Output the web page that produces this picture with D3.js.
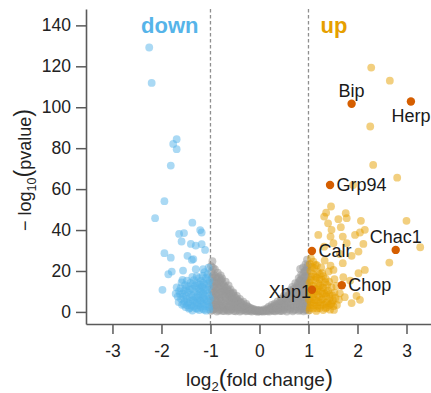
<!DOCTYPE html>
<html>
<head>
<meta charset="utf-8">
<script src="https://cdn.jsdelivr.net/npm/d3@7"></script>
<style>
  html, body { margin: 0; padding: 0; background: #fff; }
  svg { display: block; font-family: "Liberation Sans", Arial, Helvetica, sans-serif; }
</style>
</head>
<body>
<svg id="chart" width="431" height="393"></svg>
<script>
// Axis ticks and fold-change cut-offs
const xTicks = [-3, -2, -1, 0, 1, 2, 3];
const yTicks = [0, 20, 40, 60, 80, 100, 120, 140];
const foldCutoffs = [-1, 1];
const groupNames = ["down", "up"];

// Genes as [log2 fold change, -log10 p-value]
const unchanged = [
  [-0.99,0.4],[-0.98,2.8],[-0.99,5.5],[-0.97,8.2],[-0.98,11.1],[-0.99,13.9],[-0.97,16.7],[-0.98,19.5],[-0.99,22.4],[-0.96,24.8],
  [-0.93,1.3],[-0.94,4.1],[-0.92,6.9],[-0.93,9.6],[-0.94,12.5],[-0.92,15.2],[-0.93,18.1],[-0.91,20.9],
  [-0.87,0.2],[-0.88,2.6],[-0.86,5.3],[-0.87,8.0],[-0.88,10.8],[-0.86,13.4],[-0.87,16.3],[-0.85,19.2],
  [-0.81,1.1],[-0.82,3.9],[-0.80,6.6],[-0.81,9.3],[-0.82,12.2],[-0.80,15.0],[-0.79,17.8],
  [-0.76,0.5],[-0.75,3.0],[-0.77,5.8],[-0.76,8.5],[-0.74,11.3],[-0.75,14.1],[-0.76,16.4],
  [-0.70,1.4],[-0.71,4.2],[-0.69,6.8],[-0.70,9.7],[-0.71,12.4],[-0.69,14.8],
  [-0.64,0.3],[-0.65,2.7],[-0.63,5.4],[-0.64,8.1],[-0.65,10.6],[-0.63,12.9],
  [-0.58,1.2],[-0.59,3.8],[-0.57,6.3],[-0.58,8.9],[-0.59,11.0],
  [-0.52,0.4],[-0.53,2.9],[-0.51,5.5],[-0.52,7.9],[-0.53,9.5],
  [-0.46,1.0],[-0.47,3.4],[-0.45,5.9],[-0.46,7.8],
  [-0.40,0.2],[-0.41,2.5],[-0.39,4.7],[-0.40,6.4],
  [-0.34,1.1],[-0.35,3.2],[-0.33,5.0],
  [-0.28,0.3],[-0.29,2.1],[-0.27,3.9],
  [-0.22,1.0],[-0.23,2.6],
  [-0.16,0.2],[-0.17,1.8],
  [-0.10,0.8],[-0.11,1.4],
  [-0.04,0.1],[-0.05,0.9],
  [0.02,0.5],[0.01,0.8],
  [0.08,0.1],[0.09,1.2],
  [0.14,0.6],[0.15,1.7],
  [0.20,0.2],[0.21,1.5],[0.19,2.6],
  [0.26,0.9],[0.27,2.4],[0.25,3.4],
  [0.32,0.3],[0.33,2.0],[0.31,4.1],
  [0.38,1.1],[0.39,3.2],[0.37,5.2],
  [0.44,0.4],[0.45,2.6],[0.43,4.8],[0.44,6.5],
  [0.50,1.3],[0.51,3.7],[0.49,6.0],[0.50,7.9],
  [0.56,0.2],[0.57,2.5],[0.55,5.1],[0.56,7.4],[0.57,9.2],
  [0.62,1.0],[0.63,3.6],[0.61,6.2],[0.62,8.7],[0.63,10.6],
  [0.68,0.3],[0.69,2.8],[0.67,5.4],[0.68,8.0],[0.69,10.5],[0.67,12.2],
  [0.74,1.2],[0.75,3.9],[0.73,6.6],[0.74,9.3],[0.75,12.0],[0.73,14.1],
  [0.80,0.5],[0.81,3.1],[0.79,5.8],[0.80,8.6],[0.81,11.4],[0.79,14.2],[0.80,16.5],
  [0.85,1.4],[0.86,4.3],[0.84,7.1],[0.85,9.8],[0.86,12.7],[0.84,15.5],[0.85,18.2],[0.83,21.0],
  [0.90,0.3],[0.91,2.9],[0.89,5.6],[0.90,8.3],[0.91,11.1],[0.89,13.8],[0.90,16.6],[0.91,19.4],[0.89,21.8],
  [0.95,1.2],[0.96,4.0],[0.94,6.8],[0.95,9.5],[0.96,12.4],[0.94,15.2],[0.95,18.0],[0.96,20.7],[0.94,23.4],
  [0.99,0.6],[0.98,3.3],[0.99,6.0],[0.98,8.8],[0.99,11.6],[0.98,14.4],[0.99,17.2],[0.98,20.1],[0.99,22.9],[0.97,25.6],
  [-0.37,0.6],[-0.31,0.9],[-0.25,0.5],[-0.19,0.4],[-0.13,0.7],[-0.07,0.3],[-0.01,0.2],[0.05,0.6],[0.11,0.4],
  [0.17,0.9],[0.23,0.6],[0.29,0.4],[0.35,0.8],[0.41,0.5],
  [-0.90,3.2],[-0.84,6.0],[-0.78,9.8],[-0.72,7.6],[-0.67,3.5],[-0.61,9.9],[-0.55,4.6],[-0.49,2.2],[-0.43,5.3],
  [0.47,3.5],[0.53,5.5],[0.59,7.9],[0.65,4.4],[0.71,9.2],[0.77,11.5],[0.83,6.9],[0.88,12.3],[0.93,17.1],
  [-0.955,0.9],[-0.955,3.6],[-0.95,7.4],[-0.96,10.3],[-0.95,14.4],[-0.955,17.5],[-0.95,21.6],
  [-0.895,1.8],[-0.90,5.9],[-0.89,9.1],[-0.90,11.9],[-0.895,14.6],[-0.89,17.4],
  [-0.835,0.7],[-0.84,3.3],[-0.83,8.7],[-0.84,11.6],[-0.835,14.3],[-0.83,17.0],
  [-0.785,2.2],[-0.78,5.1],[-0.775,12.9],[-0.78,15.7],
  [-0.725,0.4],[-0.73,2.6],[-0.72,10.4],[-0.725,13.0],
  [-0.665,1.0],[-0.67,6.2],[-0.66,9.0],[-0.665,11.5],
  [-0.605,0.6],[-0.61,2.3],[-0.60,5.0],[-0.605,7.4],
  [-0.545,1.6],[-0.55,7.0],[-0.54,9.1],
  [-0.485,0.3],[-0.49,4.3],[-0.48,6.7],
  [-0.425,1.7],[-0.43,3.9],
  [-0.365,2.4],[-0.37,4.4],
  [-0.305,1.8],[-0.31,3.3],
  [-0.245,1.5],[-0.25,2.8],
  [-0.185,1.2],[-0.20,2.0],
  [-0.14,1.3],[-0.08,0.6],[-0.02,1.0],[0.04,0.3],[0.10,0.9],[0.16,0.3],[0.22,1.9],
  [0.245,2.0],[0.28,1.6],[0.305,2.9],[0.34,3.5],[0.365,2.1],[0.40,4.4],[0.425,1.8],[0.46,5.6],[0.485,0.6],
  [0.52,2.4],[0.54,6.9],[0.585,1.5],[0.60,4.6],[0.645,2.0],[0.66,7.1],[0.64,9.6],[0.705,0.9],[0.71,6.4],
  [0.70,11.3],[0.765,2.4],[0.77,5.0],[0.76,8.1],[0.78,13.2],[0.825,0.9],[0.82,4.5],[0.83,10.0],[0.815,12.8],
  [0.825,15.4],[0.875,2.1],[0.87,6.4],[0.88,9.3],[0.87,14.9],[0.875,17.6],[0.925,1.0],[0.93,4.7],[0.92,7.6],
  [0.93,10.4],[0.925,14.5],[0.93,20.0],[0.965,2.4],[0.97,5.2],[0.965,10.6],[0.97,13.5],[0.965,16.3],[0.97,22.0]
];

const down = [
  [-2.25,129.2],[-2.20,111.9],[-1.69,84.4],[-1.76,82.1],[-1.69,79.5],[-1.81,71.5],[-1.94,54.1],[-2.13,45.8],
  [-1.37,43.6],[-1.21,40.0],[-1.18,38.8],[-1.64,38.1],[-1.54,38.5],[-1.59,34.4],[-1.40,33.2],[-1.30,32.4],
  [-1.18,33.1],[-1.11,30.3],[-1.94,28.7],[-1.81,26.5],[-1.47,27.4],[-1.38,25.4],[-1.35,25.8],[-1.30,20.9],
  [-1.15,20.9],[-1.56,20.2],[-1.79,19.7],[-1.86,18.4],[-1.57,15.6],[-1.98,10.8],
  [-1.02,1.2],[-1.04,3.8],[-1.01,6.5],[-1.05,9.1],[-1.03,12.4],[-1.02,15.2],[-1.06,18.3],[-1.04,21.6],
  [-1.09,0.6],[-1.11,2.9],[-1.08,5.4],[-1.12,7.9],[-1.10,10.6],[-1.13,13.5],[-1.09,16.8],[-1.12,19.4],
  [-1.16,1.5],[-1.18,4.2],[-1.15,6.9],[-1.19,9.8],[-1.17,12.3],[-1.20,15.1],[-1.16,17.6],
  [-1.23,0.9],[-1.25,3.3],[-1.22,5.8],[-1.26,8.4],[-1.24,11.2],[-1.27,14.0],[-1.23,16.5],
  [-1.30,1.8],[-1.32,4.6],[-1.29,7.2],[-1.33,9.9],[-1.31,12.8],[-1.34,15.5],
  [-1.37,0.7],[-1.39,3.1],[-1.36,5.9],[-1.40,8.6],[-1.38,11.3],[-1.41,14.2],[-1.37,17.1],
  [-1.44,1.6],[-1.46,4.4],[-1.43,7.0],[-1.47,9.7],[-1.45,12.6],[-1.48,15.3],
  [-1.51,2.4],[-1.53,5.2],[-1.50,7.8],[-1.54,10.5],[-1.52,13.1],
  [-1.58,3.5],[-1.60,6.3],[-1.57,9.0],[-1.61,11.6],[-1.59,14.4],
  [-1.65,4.8],[-1.67,7.5],[-1.64,10.2],[-1.71,8.9],[-1.69,12.0],
  [-1.03,2.4],[-1.06,5.0],[-1.04,7.8],[-1.07,10.9],[-1.05,13.9],[-1.08,16.0],
  [-1.13,1.1],[-1.14,4.0],[-1.13,6.3],[-1.15,9.0],[-1.14,11.6],[-1.15,14.2],
  [-1.20,2.5],[-1.21,5.3],[-1.20,8.0],[-1.22,10.3],[-1.21,13.3],
  [-1.27,1.5],[-1.28,4.4],[-1.27,6.7],[-1.29,11.8],[-1.28,17.3],
  [-1.34,2.7],[-1.35,5.4],[-1.35,8.1],[-1.36,13.6],
  [-1.42,2.0],[-1.42,5.0],[-1.43,10.7],
  [-1.48,3.3],[-1.49,6.3],[-1.50,11.5],
  [-1.55,4.0],[-1.56,7.5],[-1.62,8.6]
];

const up = [
  [2.28,119.4],[2.66,113.0],[2.26,90.6],[2.32,71.8],[2.81,65.6],[1.91,62.0],
  [1.46,51.5],[1.36,48.5],[1.76,48.2],[1.32,46.6],[1.61,45.3],[1.78,45.8],[2.07,44.5],[3.00,44.5],
  [1.40,43.3],[1.47,40.1],[1.66,41.4],[2.05,38.8],[2.15,40.1],[1.95,37.6],[1.70,36.8],[1.45,36.8],
  [1.20,37.6],[1.51,33.6],[1.78,33.6],[2.12,33.2],[3.28,31.6],[2.02,29.5],[1.88,27.4],[1.64,28.3],
  [1.32,31.9],[2.65,24.1],[2.15,20.5],[2.02,18.9],[1.70,23.8],[1.51,20.5],[1.85,15.3],[1.71,17.0],
  [1.53,16.0],[1.98,7.8],[2.05,5.9],[1.74,7.2],[1.88,4.3],[1.58,3.4],[1.64,9.1],
  [1.02,0.8],[1.04,3.4],[1.01,6.1],[1.05,8.7],[1.03,11.5],[1.02,14.3],[1.06,17.2],[1.04,20.1],[1.03,23.5],[1.05,26.2],
  [1.09,1.7],[1.11,4.5],[1.08,7.2],[1.12,9.9],[1.10,12.8],[1.13,15.6],[1.09,18.5],[1.12,21.4],[1.10,24.6],
  [1.16,0.5],[1.18,3.0],[1.15,5.7],[1.19,8.3],[1.17,11.0],[1.20,13.9],[1.16,16.7],[1.19,19.6],[1.17,22.8],
  [1.23,1.9],[1.25,4.7],[1.22,7.4],[1.26,10.1],[1.24,12.9],[1.27,15.8],[1.23,18.4],[1.26,21.7],
  [1.30,0.9],[1.32,3.6],[1.29,6.2],[1.33,8.9],[1.31,11.7],[1.34,14.6],[1.30,17.5],[1.33,25.1],
  [1.37,2.2],[1.39,5.0],[1.36,7.7],[1.40,10.4],[1.38,13.2],[1.41,19.8],
  [1.44,1.1],[1.46,3.9],[1.43,6.6],[1.47,12.1],[1.45,22.6],
  [1.51,2.8],[1.53,9.4],[1.50,5.6],[1.57,12.7],[1.62,6.0],
  [1.03,2.0],[1.05,5.0],[1.04,9.9],[1.06,12.9],[1.05,15.5],[1.07,22.0],
  [1.10,3.2],[1.12,6.1],[1.11,8.6],[1.13,11.4],[1.14,17.4],[1.14,23.0],
  [1.18,1.7],[1.20,4.8],[1.19,9.9],[1.21,12.4],[1.22,16.0],
  [1.25,3.1],[1.27,6.2],[1.28,8.9],[1.29,12.1],[1.28,19.0],
  [1.35,1.8],[1.36,4.4],[1.37,9.4],[1.35,16.2],
  [1.42,3.2],[1.43,8.6],[1.42,14.8],
  [1.48,4.7],[1.49,8.1],[1.55,6.8],[1.52,1.0]
];

// Named genes of the unfolded protein response
const markedNames = ["Bip", "Herp", "Grp94", "Calr", "Chac1", "Chop", "Xbp1"];
const markedValues = [[1.88,101.7],[3.09,102.8],[1.44,62.0],[1.07,29.8],[2.78,30.3],[1.68,13.0],[1.07,10.8]];

// Label placement relative to each marked point
const labelPlacement = {
  Bip:   { anchor: "middle", dx: 0,   dy: -7 },
  Herp:  { anchor: "middle", dx: 0,   dy: 20 },
  Grp94: { anchor: "start",  dx: 6.5, dy: 6 },
  Calr:  { anchor: "start",  dx: 6.5, dy: 6 },
  Chac1: { anchor: "middle", dx: 0,   dy: -7 },
  Chop:  { anchor: "start",  dx: 6.5, dy: 6 },
  Xbp1:  { anchor: "end",    dx: -1,  dy: 8 }
};

const colors = { none: "#999999", down: "#56B4E9", up: "#E69F00", marked: "#D55E00" };

const svg = d3.select("#chart");
const x = d3.scaleLinear().domain([-3.54, 3.5]).range([86, 431]);
const y = d3.scaleLinear().domain([-5.9, 148]).range([324, 9]);

// Fold-change cut-off lines
svg.append("g").selectAll("line").data(foldCutoffs).join("line")
  .attr("x1", d => x(d)).attr("x2", d => x(d))
  .attr("y1", y.range()[1]).attr("y2", y.range()[0])
  .attr("stroke", "#8f8f8f").attr("stroke-width", 1.3)
  .attr("stroke-dasharray", "3.5,2.5");

// Point layers
const r = 3.9;
function layer(data, color, opacity) {
  svg.append("g").selectAll("circle").data(data).join("circle")
    .attr("cx", d => x(d[0])).attr("cy", d => y(d[1])).attr("r", r)
    .attr("fill", color).attr("fill-opacity", opacity);
}
layer(unchanged, colors.none, 0.55);
layer(down, colors.down, 0.5);
layer(up, colors.up, 0.5);

const marked = markedNames.map((n, i) => ({ name: n, fc: markedValues[i][0], p: markedValues[i][1] }));
svg.append("g").selectAll("circle").data(marked).join("circle")
  .attr("cx", d => x(d.fc)).attr("cy", d => y(d.p)).attr("r", 4.2)
  .attr("fill", colors.marked);

svg.append("g").selectAll("text").data(marked).join("text")
  .attr("x", d => x(d.fc) + labelPlacement[d.name].dx)
  .attr("y", d => y(d.p) + labelPlacement[d.name].dy)
  .attr("text-anchor", d => labelPlacement[d.name].anchor)
  .attr("font-size", 18).attr("fill", "#1a1a1a")
  .text(d => d.name);

// Group headers beside the cut-off lines
svg.append("text").attr("x", x(foldCutoffs[0]) - 12).attr("y", 32.7)
  .attr("text-anchor", "end").attr("font-size", 22).attr("font-weight", "bold")
  .attr("fill", colors.down).text(groupNames[0]);
svg.append("text").attr("x", x(foldCutoffs[1]) + 12).attr("y", 32.5)
  .attr("text-anchor", "start").attr("font-size", 22).attr("font-weight", "bold")
  .attr("fill", colors.up).text(groupNames[1]);

// Axes
const axisColor = "#5a5a5a";
const gx = svg.append("g").attr("transform", `translate(0,${y.range()[0]})`)
  .call(d3.axisBottom(x).tickValues(xTicks).tickFormat(d => String(d))
    .tickSize(10).tickPadding(11).tickSizeOuter(0));
const gy = svg.append("g").attr("transform", `translate(${x.range()[0]},0)`)
  .call(d3.axisLeft(y).tickValues(yTicks).tickFormat(d => String(d))
    .tickSize(10).tickPadding(5).tickSizeOuter(0));
[gx, gy].forEach(g => {
  g.select(".domain").attr("stroke", axisColor).attr("stroke-width", 1.6);
  g.selectAll(".tick line").attr("stroke", axisColor).attr("stroke-width", 1.5);
  g.selectAll(".tick text").attr("font-size", 17.5).attr("fill", "#222")
    .attr("font-family", "'Liberation Sans', Arial, sans-serif");
});

// Axis titles
const xt = svg.append("text").attr("x", x(0)).attr("y", 386)
  .attr("text-anchor", "middle").attr("font-size", 19).attr("fill", "#222");
xt.append("tspan").text("log");
xt.append("tspan").attr("font-size", 13).attr("dy", 5).text("2");
xt.append("tspan").attr("font-size", 24).attr("dy", -5).text("(");
xt.append("tspan").text("fold change");
xt.append("tspan").attr("font-size", 24).text(")");

const yt = svg.append("text")
  .attr("transform", "translate(31,170) rotate(-90)")
  .attr("text-anchor", "middle").attr("font-size", 18).attr("fill", "#222");
yt.append("tspan").text("\u2212 log");
yt.append("tspan").attr("font-size", 12.5).attr("dy", 5).text("10");
yt.append("tspan").attr("font-size", 23).attr("dy", -5).text("(");
yt.append("tspan").text("pvalue");
yt.append("tspan").attr("font-size", 23).text(")");
</script>
</body>
</html>
